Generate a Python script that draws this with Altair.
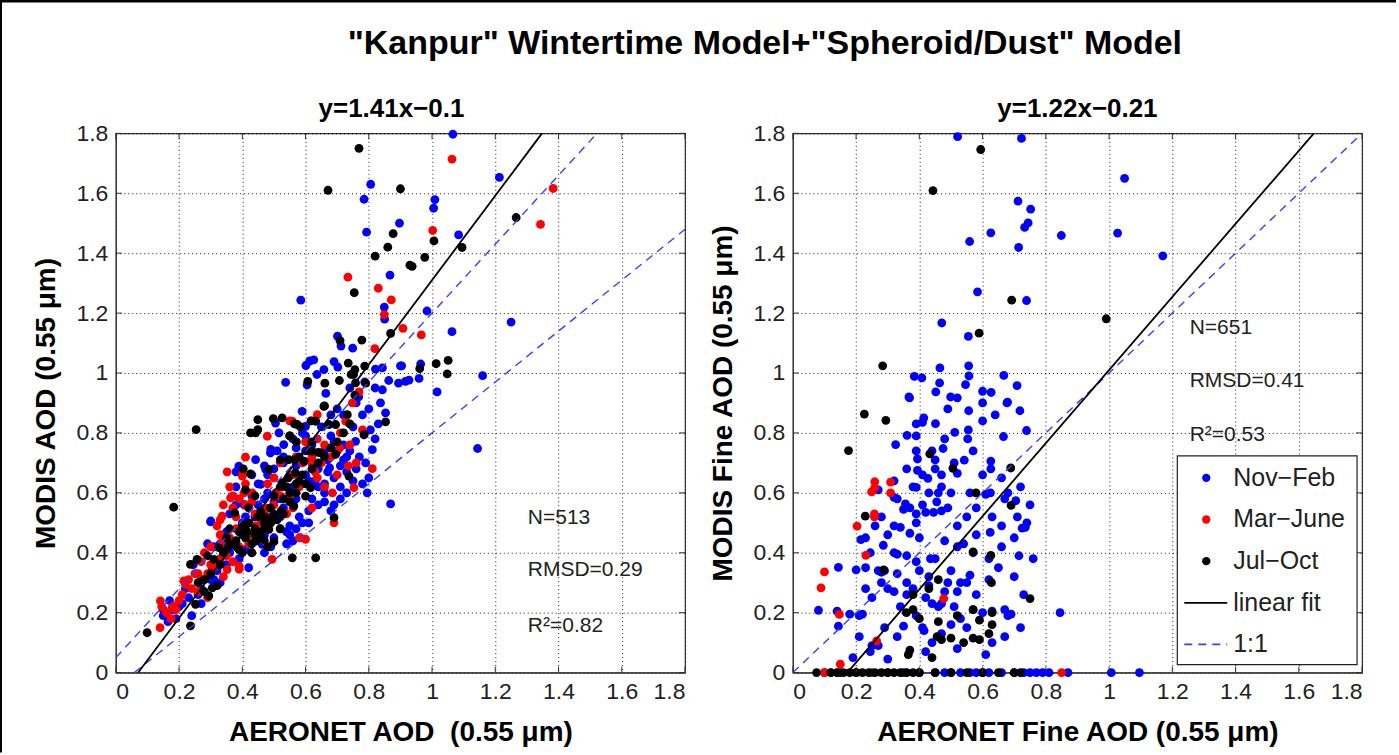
import altair as alt
import pandas as pd

# ---------------- data ----------------
SEASONS = ["Nov-Feb", "Mar-June", "Jul-Oct"]
COLORS = ["#0000ff", "#ff0000", "#000000"]
TICKS = [0, 0.2, 0.4, 0.6, 0.8, 1.0, 1.2, 1.4, 1.6, 1.8]

left_novfeb = [
    (0.806, 1.63), (0.785, 1.58), (0.897, 1.50), (0.793, 1.47), (0.867, 1.327), (0.585, 1.243), (0.849, 1.22),
    (0.85, 1.18), (0.701, 1.123), (0.712, 1.09), (0.749, 1.083), (0.626, 1.044), (0.601, 1.025), (0.69, 1.038),
    (0.702, 1.02), (0.658, 1.011), (0.636, 0.995), (0.821, 1.013), (0.843, 1.017), (0.90, 1.024), (0.537, 0.969),
    (0.605, 0.96), (0.74, 0.95), (0.787, 0.97), (0.82, 0.95), (0.843, 0.944), (0.863, 0.975), (0.894, 0.966),
    (0.916, 0.972), (0.664, 0.932), (0.768, 0.92), (1.066, 1.797), (1.213, 1.653), (1.009, 1.579), (1.005, 1.55),
    (1.084, 1.461), (0.984, 1.207), (1.063, 1.138), (1.25, 1.17), (0.904, 1.024), (0.964, 1.03), (1.16, 0.991),
    (0.927, 0.976), (0.959, 0.982), (1.016, 0.937), (1.144, 0.748), (0.613, 1.04),
    (0.589, 0.872), (0.837, 0.90), (0.853, 0.867), (0.60, 0.822), (0.516, 0.80), (0.55, 0.79), (0.60, 0.79),
    (0.785, 0.794), (0.805, 0.81), (0.811, 0.744), (0.758, 0.772), (0.72, 0.71), (0.69, 0.77), (0.68, 0.79),
    (0.62, 0.76), (0.60, 0.74), (0.57, 0.75), (0.531, 0.761), (0.51, 0.74), (0.49, 0.745), (0.53, 0.70),
    (0.442, 0.711), (0.47, 0.69), (0.76, 0.68), (0.69, 0.65), (0.795, 0.60), (0.869, 0.563), (0.66, 0.63),
    (0.64, 0.62), (0.60, 0.66), (0.676, 0.683), (0.56, 0.62), (0.458, 0.628), (0.38, 0.67), (0.38, 0.62),
    (0.43, 0.59), (0.38, 0.56), (0.36, 0.53), (0.30, 0.503), (0.41, 0.52), (0.45, 0.56), (0.50, 0.57),
    (0.53, 0.55), (0.52, 0.52), (0.45, 0.47), (0.54, 0.47), (0.52, 0.48), (0.463, 0.428), (0.47, 0.40),
    (0.43, 0.40), (0.33, 0.43), (0.29, 0.43), (0.245, 0.36), (0.305, 0.35), (0.42, 0.35), (0.33, 0.30),
    (0.22, 0.28), (0.27, 0.23), (0.24, 0.19), (0.15, 0.21), (0.19, 0.18), (0.165, 0.17), (0.62, 0.58),
    (0.58, 0.52), (0.66, 0.57), (0.71, 0.62), (0.73, 0.72), (0.75, 0.82), (0.63, 0.84), (0.48, 0.66),
    (0.40, 0.50), (0.35, 0.47), (0.27, 0.31), (0.36, 0.40), (0.50, 0.45), (0.56, 0.44), (0.61, 0.50),
    (0.68, 0.54), (0.44, 0.52), (0.48, 0.60), (0.55, 0.66), (0.66, 0.74), (0.72, 0.86), (0.78, 0.86),
    (0.57, 0.58), (0.63, 0.64), (0.505, 0.833), (0.489, 0.733), (0.389, 0.689), (0.474, 0.678), (0.405, 0.561),
    (0.30, 0.506), (0.31, 0.42), (0.34, 0.43), (0.54, 0.43), (0.55, 0.49), (0.53, 0.54), (0.17, 0.24),
    (0.15, 0.19), (0.27, 0.28), (0.31, 0.31), (0.17, 0.18), (0.21, 0.23),
    (0.62, 0.70), (0.64, 0.68), (0.67, 0.71), (0.70, 0.74), (0.72, 0.76), (0.74, 0.74), (0.77, 0.72),
    (0.79, 0.70), (0.80, 0.65), (0.78, 0.63), (0.75, 0.64), (0.73, 0.60), (0.71, 0.58), (0.69, 0.56),
    (0.66, 0.60), (0.64, 0.56), (0.61, 0.54), (0.59, 0.50), (0.57, 0.48), (0.55, 0.46), (0.49, 0.42),
    (0.47, 0.46), (0.44, 0.44), (0.41, 0.41), (0.39, 0.38), (0.35, 0.36), (0.32, 0.34), (0.30, 0.31),
    (0.26, 0.26), (0.23, 0.25), (0.20, 0.22), (0.18, 0.21), (0.45, 0.63), (0.43, 0.66), (0.50, 0.68),
    (0.53, 0.72), (0.56, 0.78), (0.59, 0.80), (0.65, 0.82), (0.68, 0.86), (0.70, 0.88), (0.76, 0.90),
    (0.80, 0.88), (0.83, 0.83), (0.82, 0.78), (0.73, 0.67), (0.61, 0.64), (0.52, 0.58), (0.48, 0.52),
    (0.35, 0.41), (0.57, 0.69), (0.67, 0.67), (0.71, 0.69), (0.47, 0.58), (0.40, 0.46),
]
left_marjune = [
    (0.734, 1.32), (0.83, 1.283), (0.871, 1.244), (0.849, 1.195), (0.908, 1.149), (0.819, 1.081), (0.769, 0.937),
    (1.063, 1.714), (1.383, 1.616), (1.343, 1.496), (1.002, 1.476), (0.966, 1.127),
    (0.748, 0.90), (0.727, 0.839), (0.637, 0.861), (0.55, 0.84), (0.479, 0.789), (0.558, 0.839), (0.617, 0.84),
    (0.78, 0.81), (0.708, 0.75), (0.637, 0.78), (0.616, 0.706), (0.60, 0.77), (0.41, 0.719), (0.352, 0.67),
    (0.40, 0.661), (0.41, 0.63), (0.405, 0.60), (0.37, 0.59), (0.52, 0.70), (0.609, 0.766), (0.63, 0.67),
    (0.811, 0.681), (0.735, 0.69), (0.753, 0.617), (0.685, 0.60), (0.637, 0.65), (0.55, 0.59), (0.52, 0.59),
    (0.56, 0.55), (0.54, 0.53), (0.475, 0.55), (0.431, 0.60), (0.40, 0.656), (0.363, 0.583), (0.39, 0.58),
    (0.41, 0.56), (0.336, 0.522), (0.32, 0.49), (0.44, 0.53), (0.584, 0.45), (0.60, 0.445), (0.69, 0.50),
    (0.36, 0.45), (0.39, 0.42), (0.33, 0.46), (0.30, 0.42), (0.27, 0.37), (0.31, 0.35), (0.352, 0.344),
    (0.34, 0.32), (0.39, 0.345), (0.26, 0.33), (0.22, 0.294), (0.215, 0.306), (0.25, 0.33), (0.30, 0.36),
    (0.336, 0.433), (0.38, 0.48), (0.33, 0.51), (0.37, 0.55), (0.39, 0.355), (0.37, 0.37), (0.494, 0.378),
    (0.505, 0.60), (0.58, 0.45), (0.42, 0.43), (0.26, 0.27), (0.29, 0.25), (0.183, 0.222), (0.16, 0.20),
    (0.141, 0.239), (0.145, 0.22), (0.178, 0.217), (0.19, 0.21), (0.14, 0.15), (0.175, 0.18), (0.20, 0.24),
    (0.46, 0.50), (0.50, 0.65), (0.58, 0.62), (0.65, 0.70), (0.70, 0.66), (0.47, 0.44), (0.28, 0.40),
    (0.42, 0.46), (0.44, 0.49), (0.47, 0.53), (0.50, 0.56), (0.53, 0.62), (0.56, 0.66), (0.59, 0.70),
    (0.62, 0.72), (0.66, 0.76), (0.68, 0.72), (0.71, 0.80), (0.74, 0.76), (0.35, 0.39), (0.33, 0.38),
    (0.29, 0.33), (0.24, 0.28), (0.21, 0.26), (0.23, 0.31), (0.38, 0.52), (0.43, 0.57), (0.48, 0.63),
    (0.57, 0.72), (0.36, 0.62), (0.34, 0.56), (0.62, 0.55), (0.66, 0.62), (0.76, 0.70),
]
left_juloct = [
    (0.769, 1.75), (0.671, 1.61), (0.90, 1.615), (0.877, 1.465), (0.86, 1.42), (0.82, 1.39), (0.93, 1.36),
    (0.754, 1.268), (0.869, 1.132), (0.709, 1.108), (0.778, 1.11), (0.735, 1.033), (0.756, 1.011), (0.787, 1.023),
    (0.744, 0.995), (0.752, 0.995), (0.607, 0.972), (0.661, 0.966), (0.707, 0.975), (0.758, 0.967), (0.79, 0.966),
    (0.756, 0.926), (1.266, 1.519), (1.006, 1.441), (1.095, 1.419), (0.977, 1.386), (0.937, 1.356), (0.961, 1.015),
    (1.013, 1.031), (1.051, 1.042), (1.048, 0.997),
    (0.658, 0.889), (0.853, 0.837), (0.732, 0.861), (0.695, 0.828), (0.674, 0.828), (0.632, 0.839), (0.574, 0.828),
    (0.526, 0.85), (0.498, 0.848), (0.449, 0.844), (0.449, 0.811), (0.442, 0.80), (0.426, 0.80), (0.254, 0.811),
    (0.66, 0.89), (0.618, 0.84), (0.565, 0.83), (0.584, 0.82), (0.785, 0.794), (0.571, 0.77), (0.61, 0.74),
    (0.64, 0.735), (0.52, 0.71), (0.565, 0.71), (0.403, 0.68), (0.545, 0.65), (0.60, 0.63), (0.52, 0.62),
    (0.41, 0.61), (0.695, 0.728), (0.648, 0.733), (0.621, 0.739), (0.595, 0.706), (0.547, 0.711), (0.484, 0.678),
    (0.737, 0.656), (0.616, 0.617), (0.60, 0.589), (0.58, 0.64), (0.568, 0.667), (0.526, 0.633), (0.563, 0.556),
    (0.53, 0.53), (0.489, 0.55), (0.47, 0.52), (0.494, 0.514), (0.44, 0.59), (0.426, 0.663), (0.376, 0.533),
    (0.458, 0.539), (0.523, 0.54), (0.40, 0.494), (0.42, 0.50), (0.484, 0.478), (0.51, 0.51), (0.442, 0.439),
    (0.41, 0.45), (0.357, 0.422), (0.39, 0.41), (0.326, 0.417), (0.31, 0.378), (0.29, 0.39), (0.257, 0.378),
    (0.236, 0.361), (0.40, 0.40), (0.43, 0.40), (0.468, 0.444), (0.50, 0.437), (0.558, 0.383), (0.632, 0.383),
    (0.69, 0.517), (0.305, 0.283), (0.294, 0.256), (0.28, 0.27), (0.252, 0.228), (0.236, 0.156), (0.099, 0.133),
    (0.183, 0.552), (0.30, 0.33), (0.32, 0.29), (0.35, 0.45), (0.46, 0.47), (0.48, 0.42), (0.38, 0.44),
    (0.45, 0.52), (0.42, 0.55), (0.55, 0.57), (0.57, 0.60), (0.52, 0.48), (0.44, 0.48), (0.47, 0.50),
    (0.415, 0.47), (0.36, 0.48),
    (0.43, 0.43), (0.45, 0.45), (0.47, 0.48), (0.49, 0.50), (0.50, 0.53), (0.53, 0.58), (0.55, 0.60),
    (0.57, 0.63), (0.59, 0.66), (0.62, 0.68), (0.64, 0.70), (0.66, 0.72), (0.68, 0.75), (0.70, 0.77),
    (0.72, 0.80), (0.74, 0.83), (0.38, 0.42), (0.36, 0.43), (0.34, 0.40), (0.33, 0.36), (0.28, 0.31),
    (0.26, 0.30), (0.44, 0.46), (0.41, 0.48), (0.39, 0.47), (0.54, 0.62), (0.50, 0.59), (0.58, 0.72),
    (0.62, 0.77), (0.55, 0.79),
]

right_novfeb = [
    (0.521, 1.789), (0.723, 1.783), (0.712, 1.574), (0.752, 1.547), (0.744, 1.501), (0.733, 1.486), (0.626, 1.468),
    (0.559, 1.439), (0.849, 1.459), (0.714, 1.419), (0.584, 1.271), (0.739, 1.242), (0.471, 1.167), (0.555, 1.122),
    (0.465, 1.017), (0.556, 1.024), (0.557, 0.99), (0.384, 0.989), (0.408, 0.984), (0.667, 0.992), (0.464, 0.967),
    (0.546, 0.961), (0.709, 0.958), (0.452, 0.937), (0.60, 0.939), (0.627, 0.935), (0.367, 0.92), (0.499, 0.92),
    (0.679, 0.903), (1.049, 1.65), (1.027, 1.467), (1.17, 1.391),
    (0.369, 0.917), (0.52, 0.917), (0.677, 0.90), (0.718, 0.874), (0.556, 0.874), (0.414, 0.85), (0.39, 0.83),
    (0.41, 0.835), (0.451, 0.831), (0.739, 0.808), (0.666, 0.788), (0.512, 0.802), (0.555, 0.81), (0.553, 0.78),
    (0.361, 0.792), (0.39, 0.79), (0.325, 0.761), (0.39, 0.74), (0.475, 0.748), (0.394, 0.713), (0.45, 0.71),
    (0.542, 0.709), (0.626, 0.706), (0.626, 0.68), (0.394, 0.675), (0.45, 0.68), (0.47, 0.66), (0.52, 0.665),
    (0.427, 0.648), (0.32, 0.64), (0.27, 0.61), (0.32, 0.585), (0.39, 0.618), (0.47, 0.62), (0.46, 0.60),
    (0.61, 0.595), (0.625, 0.60), (0.705, 0.574), (0.356, 0.563), (0.35, 0.545), (0.37, 0.55), (0.41, 0.56),
    (0.42, 0.535), (0.445, 0.535), (0.47, 0.54), (0.455, 0.57), (0.26, 0.49), (0.39, 0.53), (0.39, 0.50),
    (0.32, 0.49), (0.34, 0.485), (0.37, 0.465), (0.52, 0.49), (0.66, 0.49), (0.725, 0.482), (0.735, 0.485),
    (0.624, 0.468), (0.215, 0.444), (0.23, 0.45), (0.286, 0.425), (0.48, 0.44), (0.54, 0.43), (0.245, 0.40),
    (0.32, 0.40), (0.33, 0.395), (0.36, 0.39), (0.715, 0.39), (0.39, 0.37), (0.435, 0.38), (0.144, 0.351),
    (0.20, 0.343), (0.27, 0.34), (0.28, 0.335), (0.33, 0.33), (0.50, 0.34), (0.56, 0.325), (0.62, 0.31),
    (0.28, 0.30), (0.23, 0.28), (0.30, 0.28), (0.32, 0.27), (0.36, 0.26), (0.43, 0.29), (0.43, 0.32),
    (0.49, 0.30), (0.52, 0.27), (0.53, 0.30), (0.55, 0.30), (0.44, 0.23), (0.46, 0.22), (0.47, 0.23),
    (0.081, 0.208), (0.14, 0.205), (0.18, 0.195), (0.21, 0.19), (0.22, 0.195), (0.57, 0.21), (0.63, 0.205),
    (0.67, 0.21), (0.68, 0.19), (0.69, 0.195), (0.845, 0.20), (0.53, 0.18), (0.50, 0.16), (0.35, 0.155),
    (0.144, 0.155), (0.41, 0.15), (0.415, 0.14), (0.47, 0.13), (0.63, 0.10), (0.25, 0.09), (0.27, 0.09),
    (0.245, 0.07), (0.42, 0.07), (0.19, 0.05), (0.30, 0.045), (0.74, 0.50), (0.70, 0.45), (0.57, 0.40),
    (0.65, 0.35), (0.58, 0.55), (0.66, 0.65), (0.50, 0.60), (0.60, 0.66), (0.68, 0.60), (0.55, 0.52),
    (0.29, 0.34), (0.40, 0.45), (0.60, 0.20), (0.38, 0.28),
    (0.38, 0.62), (0.41, 0.66), (0.44, 0.74), (0.48, 0.78), (0.51, 0.70), (0.57, 0.74), (0.60, 0.84),
    (0.64, 0.86), (0.67, 0.58), (0.71, 0.52), (0.58, 0.46), (0.52, 0.42), (0.45, 0.38), (0.40, 0.34),
    (0.36, 0.30), (0.34, 0.22), (0.39, 0.19), (0.42, 0.25), (0.48, 0.27), (0.51, 0.22), (0.55, 0.15),
    (0.58, 0.26), (0.62, 0.38), (0.66, 0.42), (0.70, 0.32), (0.73, 0.26), (0.76, 0.38), (0.28, 0.52),
    (0.30, 0.46), (0.33, 0.58), (0.36, 0.68), (0.43, 0.60), (0.49, 0.55), (0.56, 0.60), (0.63, 0.52),
    (0.72, 0.62), (0.75, 0.56), (0.25, 0.25), (0.29, 0.15), (0.33, 0.12), (0.44, 0.10), (0.52, 0.08),
    (0.61, 0.06), (0.67, 0.12), (0.72, 0.15), (0.23, 0.35), (0.21, 0.12), (0.60, 0.90), (0.49, 0.88),
    (0.10, 0.0), (0.15, 0.0), (0.20, 0.0), (0.30, 0.0), (0.35, 0.0), (0.40, 0.0), (0.45, 0.0), (0.48, 0.0),
    (0.50, 0.0), (0.53, 0.0), (0.56, 0.0), (0.58, 0.0), (0.60, 0.0), (0.62, 0.0), (0.66, 0.0), (0.70, 0.0),
    (0.73, 0.0), (0.75, 0.0), (0.77, 0.0), (0.79, 0.0), (0.81, 0.0), (0.87, 0.0), (1.007, 0.0), (1.096, 0.0),
]
right_marjune = [
    (0.259, 0.637), (0.259, 0.617), (0.309, 0.636), (0.249, 0.603), (0.309, 0.60), (0.258, 0.53), (0.258, 0.52),
    (0.203, 0.489), (0.231, 0.391), (0.10, 0.336), (0.089, 0.283), (0.477, 0.247), (0.147, 0.194), (0.265, 0.106),
    (0.15, 0.028),
    (0.10, 0.0), (0.12, 0.0), (0.14, 0.0), (0.20, 0.0), (0.25, 0.0), (0.85, 0.0),
]
right_juloct = [
    (0.594, 1.746), (0.443, 1.609), (0.692, 1.243), (0.589, 1.133), (0.284, 1.024), (0.991, 1.181), (0.226, 0.863),
    (0.294, 0.842), (0.176, 0.741), (0.433, 0.73), (0.506, 0.682), (0.689, 0.683), (0.579, 0.60), (0.69, 0.558),
    (0.229, 0.522), (0.57, 0.403), (0.626, 0.391), (0.287, 0.343), (0.628, 0.30), (0.38, 0.26), (0.46, 0.31),
    (0.75, 0.247), (0.359, 0.20), (0.38, 0.21), (0.57, 0.21), (0.63, 0.20), (0.59, 0.175), (0.63, 0.16),
    (0.46, 0.17), (0.456, 0.12), (0.47, 0.11), (0.50, 0.115), (0.54, 0.10), (0.57, 0.115), (0.59, 0.11),
    (0.37, 0.075), (0.365, 0.06), (0.43, 0.28), (0.40, 0.18), (0.52, 0.19), (0.62, 0.13), (0.44, 0.05),
    (0.075, 0.0), (0.12, 0.0), (0.14, 0.0), (0.16, 0.0), (0.18, 0.0), (0.20, 0.0), (0.22, 0.0), (0.24, 0.0),
    (0.26, 0.0), (0.28, 0.0), (0.30, 0.0), (0.32, 0.0), (0.34, 0.0), (0.36, 0.0), (0.38, 0.0), (0.40, 0.0),
    (0.45, 0.0), (0.50, 0.0), (0.55, 0.0), (0.60, 0.0), (0.65, 0.0), (0.70, 0.0), (0.72, 0.0),
]

# fit lines (slope, intercept) and statistics as printed in the figure
left_fit = (1.41, -0.10)
right_fit = (1.22, -0.21)
left_envelope = [(1.15, 0.05), (0.85, -0.05)]
right_one_to_one = [(1.0, 0.0)]
left_stats = ["N=513", "RMSD=0.29", "R\u00b2=0.82"]
right_stats = ["N=651", "RMSD=0.41", "R\u00b2=0.53"]
legend_labels = ["Nov\u2212Feb", "Mar\u2212June", "Jul\u2212Oct", "linear fit", "1:1"]
main_title = "\"Kanpur\" Wintertime Model+\"Spheroid/Dust\" Model"

FONT = "Liberation Sans"
LO, HI = 0.0, 1.8


def points_frame(groups):
    rows = []
    for season, pairs in zip(SEASONS, groups):
        for x, y in pairs:
            rows.append({"x": x, "y": y, "season": season})
    return pd.DataFrame(rows)


def line_frame(lines):
    rows = []
    for i, (a, b) in enumerate(lines):
        x0 = max(LO, (LO - b) / a)
        x1 = min(HI, (HI - b) / a)
        rows.append({"line": i, "x": x0, "y": a * x0 + b})
        rows.append({"line": i, "x": x1, "y": a * x1 + b})
    return pd.DataFrame(rows)


one = pd.DataFrame({"k": [0]})
tick_frame = pd.DataFrame({"v": TICKS})
W, H = 570, 540
TL = 6  # inward tick length
# left plot area sits at (117,135) in the page; right plot area at x=795
LEFT_X, TOP_Y, PAGE_W, PAGE_H = 117, 135, 1399, 755


def axis(title):
    return alt.Axis(values=TICKS, format=".1~f", title=title, grid=True, gridColor="#000000",
                    gridDash=[1, 3], gridOpacity=0.9, ticks=False, domainColor="#333333",
                    labelFontSize=23, labelColor="#222222", labelFont=FONT, labelPadding=8,
                    titleFontSize=28, titleFont=FONT, titleFontWeight="bold", titleColor="#000000",
                    titlePadding=15)


def text_layer(s, x, y, size, bold=False, align="left"):
    return alt.Chart(one).mark_text(align=align, baseline="middle", fontSize=size, font=FONT,
                                    fontWeight="bold" if bold else "normal",
                                    color="#000000" if bold else "#222222").encode(
        x=x, y=y, text=alt.value(s))


def panel(groups, fit, dashed, subtitle, sub_x, xtitle, ytitle, stats, stat_x, stat_y, with_legend, frame):
    xs = alt.Scale(domain=[LO, HI], nice=False)
    ys = alt.Scale(domain=[LO, HI], nice=False)
    color = alt.Color("season:N", scale=alt.Scale(domain=SEASONS, range=COLORS), legend=None)
    dots = alt.Chart(points_frame(groups)).mark_circle(size=78, opacity=1).encode(
        x=alt.X("x:Q", scale=xs, axis=axis(xtitle)),
        y=alt.Y("y:Q", scale=ys, axis=axis(ytitle)),
        color=color,
    )
    dash = alt.Chart(line_frame(dashed)).mark_line(color="#3c3cff", strokeDash=[8, 6], strokeWidth=1.4).encode(
        x="x:Q", y="y:Q", detail="line:N")
    fitl = alt.Chart(line_frame([fit])).mark_line(color="#000000", strokeWidth=1.8).encode(
        x="x:Q", y="y:Q", detail="line:N")
    layers = [dots, dash, fitl]
    # inward ticks on all four sides of the box
    tk = alt.Chart(tick_frame).mark_rule(color="#333333", strokeWidth=1)
    layers.append(tk.encode(x="v:Q", y=alt.value(H), y2=alt.value(H - TL)))
    layers.append(tk.encode(x="v:Q", y=alt.value(0), y2=alt.value(TL)))
    layers.append(tk.encode(y="v:Q", x=alt.value(0), x2=alt.value(TL)))
    layers.append(tk.encode(y="v:Q", x=alt.value(W), x2=alt.value(W - TL)))
    for i, s in enumerate(stats):
        layers.append(text_layer(s, alt.datum(stat_x), alt.datum(stat_y[i]), 21))
    # panel heading (fit equation)
    layers.append(text_layer(subtitle, alt.value(sub_x), alt.value(-24), 26, bold=True, align="center"))
    if with_legend:
        bx0, bx1, by0, by1 = 385, 565, 323, 532
        layers.append(alt.Chart(one).mark_rect(fill="white", stroke="#222222", strokeWidth=1.2).encode(
            x=alt.value(bx0), x2=alt.value(bx1), y=alt.value(by0), y2=alt.value(by1)))
        for i, lab in enumerate(legend_labels):
            yy = 345 + i * 41.7
            if i < 3:
                layers.append(alt.Chart(one).mark_circle(size=70, opacity=1, color=COLORS[i]).encode(
                    x=alt.value(414), y=alt.value(yy)))
            elif i == 3:
                layers.append(alt.Chart(one).mark_rule(color="#000000", strokeWidth=1.8).encode(
                    x=alt.value(392), x2=alt.value(435), y=alt.value(yy)))
            else:
                layers.append(alt.Chart(one).mark_rule(color="#3c3cff", strokeWidth=1.8, strokeDash=[8, 6]).encode(
                    x=alt.value(392), x2=alt.value(435), y=alt.value(yy)))
            layers.append(text_layer(lab, alt.value(441), alt.value(yy), 25))
    if frame:
        # figure frame (top and left edges) and the overall title, in page coordinates
        layers.append(alt.Chart(one).mark_rule(color="#000000", strokeWidth=4).encode(
            x=alt.value(-LEFT_X), x2=alt.value(PAGE_W - LEFT_X), y=alt.value(-TOP_Y + 2)))
        layers.append(alt.Chart(one).mark_rule(color="#000000", strokeWidth=3).encode(
            x=alt.value(-LEFT_X + 1.5), y=alt.value(-TOP_Y), y2=alt.value(PAGE_H - TOP_Y)))
        layers.append(text_layer(main_title, alt.value(767 - LEFT_X), alt.value(46 - TOP_Y), 34, bold=True,
                                 align="center"))
    return alt.layer(*layers).properties(width=W, height=H)


left = panel([left_novfeb, left_marjune, left_juloct], left_fit, left_envelope, "y=1.41x\u22120.1", 276,
             "AERONET AOD\u00a0\u00a0(0.55 \u03bcm)", "MODIS AOD (0.55 \u03bcm)", left_stats, 1.303,
             [0.517, 0.344, 0.157], False, True)
right = panel([right_novfeb, right_marjune, right_juloct], right_fit, right_one_to_one, "y=1.22x\u22120.21", 285,
              "AERONET Fine AOD (0.55 \u03bcm)", "MODIS Fine AOD (0.55 \u03bcm)", right_stats, 1.255,
              [1.15, 0.973, 0.793], True, False)

chart = alt.hconcat(left, right, spacing=795 - LEFT_X - W, bounds="flush").properties(
    padding={"left": -4, "top": -5, "right": 0, "bottom": 0},
    background="white",
).configure_view(stroke="#333333", strokeWidth=1.2)

chart.save("out.html", embed_options={"renderer": "svg", "actions": False})
